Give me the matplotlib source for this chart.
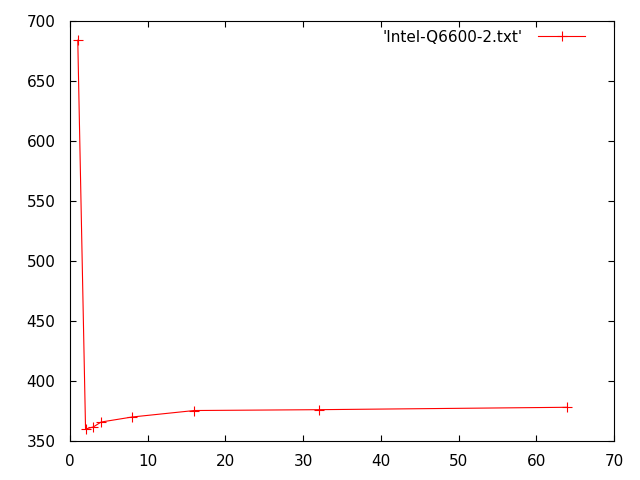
import matplotlib
matplotlib.use("Agg")
from matplotlib import pyplot as plt

# threads vs time
threads = [1, 2, 3, 4, 8, 16, 32, 64]
times = [684, 360, 361.7, 365.8, 370, 375.4, 376.1, 378.1]
label = "'Intel-Q6600-2.txt'"

plt.rcParams['font.family'] = ['DejaVu Sans']
plt.rcParams['font.size'] = 11

fig = plt.figure(figsize=(6.4, 4.8), dpi=100)
ax = fig.add_axes([70 / 640, 39 / 480, 544 / 640, 420 / 480])

ax.plot(threads, times, color='red', lw=0.8, marker='+', ms=7, mew=0.8, label=label)

ax.set_xlim(0, 70)
ax.set_ylim(350, 700)
ax.set_xticks(range(0, 71, 10))
ax.set_yticks(range(350, 701, 50))
ax.tick_params(direction='in', length=4.5, width=0.8, top=True, right=True, labelsize=11)
ax.tick_params(axis='y', pad=10.5)
ax.tick_params(axis='x', pad=9)
for s in ax.spines.values():
    s.set_linewidth(0.8)

ax.legend(loc='upper right', bbox_to_anchor=(1 - 18 / 544, 1 + 2 / 420), frameon=False,
          markerfirst=False, handlelength=3.1, borderaxespad=0.3, handletextpad=1.0,
          fontsize=11)

plt.savefig('out.png')
